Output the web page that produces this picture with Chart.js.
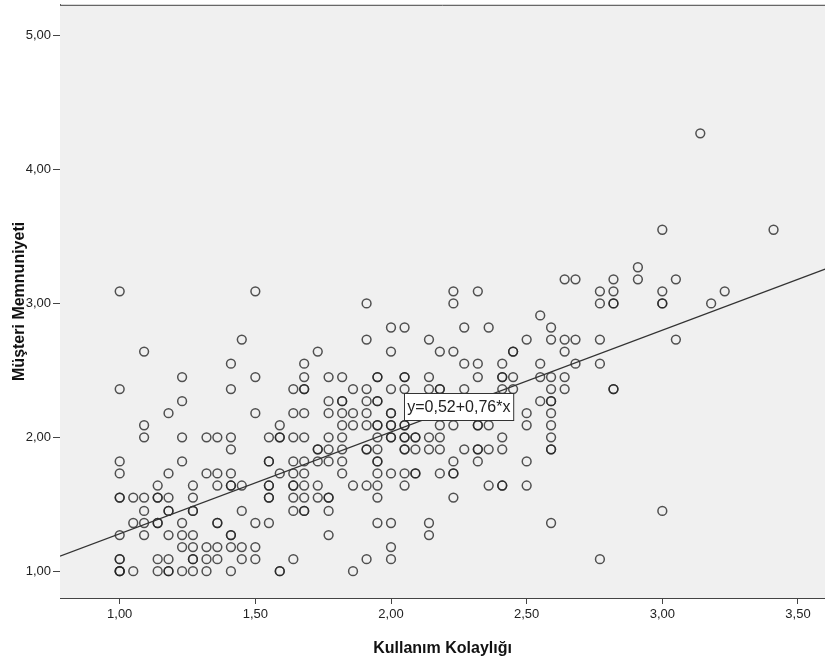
<!DOCTYPE html>
<html>
<head>
<meta charset="utf-8">
<script src="https://cdn.jsdelivr.net/npm/chart.js@4.4.1/dist/chart.umd.min.js"></script>
<style>
  html, body { margin: 0; background: #fff; overflow: hidden; }
  #frame { width: 825px; height: 669px; overflow: hidden; }
  #wrap { width: 831px; height: 674px; margin-top: -5px; }
</style>
</head>
<body>
<div id="frame"><div id="wrap"><canvas id="chart"></canvas></div></div>
<script>
// Müşteri Memnuniyeti levels (y) and the Kullanım Kolaylığı values (x) found at each level
const memnuniyetLevels = [1.00, 1.09, 1.18, 1.27, 1.36, 1.45, 1.55, 1.64, 1.73, 1.82, 1.91, 2.00, 2.09, 2.18,
  2.27, 2.36, 2.45, 2.55, 2.64, 2.73, 2.82, 2.91, 3.00, 3.09, 3.18, 3.27, 3.55, 4.27];
const kolaylikByLevel = [
  [1.00, 1.00, 1.00, 1.05, 1.14, 1.18, 1.18, 1.23, 1.27, 1.32, 1.41, 1.59, 1.59, 1.86],
  [1.00, 1.00, 1.14, 1.18, 1.27, 1.27, 1.32, 1.36, 1.45, 1.50, 1.64, 1.91, 2.00, 2.77],
  [1.23, 1.27, 1.32, 1.36, 1.41, 1.45, 1.50, 2.00],
  [1.00, 1.09, 1.18, 1.23, 1.27, 1.41, 1.41, 1.77, 2.14],
  [1.05, 1.09, 1.14, 1.14, 1.23, 1.36, 1.36, 1.50, 1.55, 1.95, 2.00, 2.14, 2.59],
  [1.09, 1.18, 1.18, 1.27, 1.27, 1.45, 1.64, 1.68, 1.68, 1.77, 3.00],
  [1.00, 1.00, 1.05, 1.09, 1.14, 1.14, 1.18, 1.27, 1.55, 1.55, 1.64, 1.68, 1.73, 1.77, 1.77, 1.95, 2.23],
  [1.14, 1.27, 1.36, 1.41, 1.41, 1.45, 1.55, 1.55, 1.64, 1.64, 1.68, 1.73, 1.86, 1.91, 1.95, 2.05, 2.36, 2.41, 2.41, 2.50],
  [1.00, 1.18, 1.32, 1.36, 1.41, 1.59, 1.64, 1.68, 1.82, 1.95, 2.00, 2.05, 2.09, 2.09, 2.18, 2.23, 2.23],
  [1.00, 1.23, 1.55, 1.55, 1.64, 1.68, 1.73, 1.77, 1.82, 1.95, 1.95, 2.23, 2.32, 2.50],
  [1.41, 1.73, 1.73, 1.77, 1.82, 1.91, 1.91, 1.95, 2.05, 2.05, 2.09, 2.14, 2.18, 2.27, 2.32, 2.32, 2.36, 2.41, 2.59, 2.59],
  [1.09, 1.23, 1.32, 1.36, 1.41, 1.55, 1.59, 1.59, 1.64, 1.68, 1.77, 1.82, 1.95, 2.00, 2.00, 2.05, 2.05, 2.09, 2.09, 2.14, 2.18, 2.41, 2.59],
  [1.09, 1.59, 1.82, 1.86, 1.91, 1.95, 1.95, 2.00, 2.00, 2.05, 2.05, 2.18, 2.23, 2.32, 2.32, 2.36, 2.50, 2.59],
  [1.18, 1.50, 1.64, 1.68, 1.77, 1.82, 1.86, 1.91, 2.00, 2.00, 2.50, 2.59],
  [1.23, 1.77, 1.82, 1.82, 1.91, 1.95, 1.95, 2.55, 2.59, 2.59],
  [1.00, 1.41, 1.64, 1.68, 1.68, 1.86, 1.91, 2.00, 2.05, 2.14, 2.18, 2.18, 2.27, 2.41, 2.45, 2.59, 2.64, 2.82, 2.82],
  [1.23, 1.50, 1.68, 1.77, 1.82, 1.95, 1.95, 2.05, 2.05, 2.14, 2.32, 2.41, 2.41, 2.45, 2.55, 2.59, 2.64],
  [1.41, 1.68, 2.27, 2.32, 2.41, 2.55, 2.68, 2.77],
  [1.09, 1.73, 2.00, 2.18, 2.23, 2.45, 2.45, 2.64],
  [1.45, 1.91, 2.14, 2.50, 2.59, 2.64, 2.68, 2.77, 3.05],
  [2.00, 2.05, 2.27, 2.36, 2.59],
  [2.55],
  [1.91, 2.23, 2.77, 2.82, 2.82, 3.00, 3.00, 3.18],
  [1.00, 1.50, 2.23, 2.32, 2.77, 2.82, 3.00, 3.23],
  [2.64, 2.68, 2.82, 2.91, 3.05],
  [2.91],
  [3.00, 3.41],
  [3.14]
];
const xTicks = [1.0, 1.5, 2.0, 2.5, 3.0, 3.5];
const yTicks = [1, 2, 3, 4, 5];
const fitIntercept = 0.52;
const fitSlope = 0.76;
const fitLabel = "y=0,52+0,76*x";
const fitLabelAt = { x: 2.25, y: 2.23 };

const xMin = 0.78, xMax = 3.60, yMin = 0.80, yMax = 5.23;

const points = [];
memnuniyetLevels.forEach((y, k) => kolaylikByLevel[k].forEach(x => points.push({ x, y })));

const fmt = v => Number(v).toFixed(2).replace(".", ",");
const FONT = "'Liberation Sans', Arial, sans-serif";

const plotFrame = {
  id: "plotFrame",
  beforeDatasetsDraw(chart) {
    const { ctx, chartArea: a } = chart;
    ctx.save();
    ctx.fillStyle = "#f0f0f0";
    ctx.fillRect(a.left, a.top, a.right - a.left, a.bottom - a.top);
    ctx.strokeStyle = "#444";
    ctx.lineWidth = 1;
    ctx.beginPath();
    ctx.moveTo(a.left, a.top + 0.5);
    ctx.lineTo(a.right, a.top + 0.5);
    ctx.stroke();
    ctx.restore();
  },
  afterDatasetsDraw(chart) {
    const { ctx, scales } = chart;
    const cx = scales.x.getPixelForValue(fitLabelAt.x);
    const cy = scales.y.getPixelForValue(fitLabelAt.y);
    ctx.save();
    ctx.font = "16px " + FONT;
    const w = ctx.measureText(fitLabel).width + 6;
    const h = 27;
    const x0 = Math.round(cx - w / 2) + 0.5, y0 = Math.round(cy - h / 2) + 0.5;
    ctx.fillStyle = "#fff";
    ctx.fillRect(x0, y0, w, h);
    ctx.strokeStyle = "#333";
    ctx.lineWidth = 1;
    ctx.strokeRect(x0, y0, w, h);
    ctx.fillStyle = "#222";
    ctx.textAlign = "center";
    ctx.textBaseline = "middle";
    ctx.fillText(fitLabel, cx, cy + 1);
    ctx.restore();
  }
};

new Chart(document.getElementById("chart").getContext("2d"), {
  type: "scatter",
  data: {
    datasets: [
      {
        type: "line",
        label: "fit",
        data: [{ x: xMin, y: fitIntercept + fitSlope * xMin }, { x: xMax, y: fitIntercept + fitSlope * xMax }],
        borderColor: "#333",
        borderWidth: 1.2,
        pointRadius: 0,
        fill: false,
        order: 0
      },
      {
        label: "points",
        data: points,
        pointStyle: "circle",
        pointRadius: 4.4,
        pointBorderWidth: 1.5,
        pointBackgroundColor: "rgba(0,0,0,0)",
        pointBorderColor: "rgba(35,35,35,0.78)",
        order: 1
      }
    ]
  },
  options: {
    responsive: true,
    maintainAspectRatio: false,
    animation: false,
    layout: { padding: { top: 5, right: 0, left: 0, bottom: 0 } },
    plugins: { legend: { display: false }, tooltip: { enabled: false } },
    scales: {
      x: {
        type: "linear",
        min: xMin,
        max: xMax,
        afterBuildTicks: s => { s.ticks = xTicks.map(v => ({ value: v })); },
        afterFit: s => { s.height = 71; },
        ticks: { callback: fmt, color: "#222", font: { family: FONT, size: 13 }, padding: 3, maxRotation: 0, autoSkip: false },
        grid: { drawOnChartArea: false, drawTicks: true, tickLength: 6, tickColor: "#444" },
        border: { display: true, color: "#444", width: 1 },
        title: { display: true, text: "Kullanım Kolaylığı", color: "#111", font: { family: FONT, size: 16, weight: "bold" }, padding: { top: 0, bottom: 11 } }
      },
      y: {
        type: "linear",
        min: yMin,
        max: yMax,
        afterBuildTicks: s => { s.ticks = yTicks.map(v => ({ value: v })); },
        afterFit: s => { s.width = 60; },
        ticks: { callback: fmt, color: "#222", font: { family: FONT, size: 13 }, padding: 2, autoSkip: false },
        grid: { drawOnChartArea: false, drawTicks: true, tickLength: 7, tickColor: "#444" },
        border: { display: true, color: "#444", width: 1 },
        title: { display: true, text: "Müşteri Memnuniyeti", color: "#111", font: { family: FONT, size: 16, weight: "bold" }, padding: { top: 10, bottom: 0 } }
      }
    }
  },
  plugins: [plotFrame]
});
</script>
</body>
</html>
